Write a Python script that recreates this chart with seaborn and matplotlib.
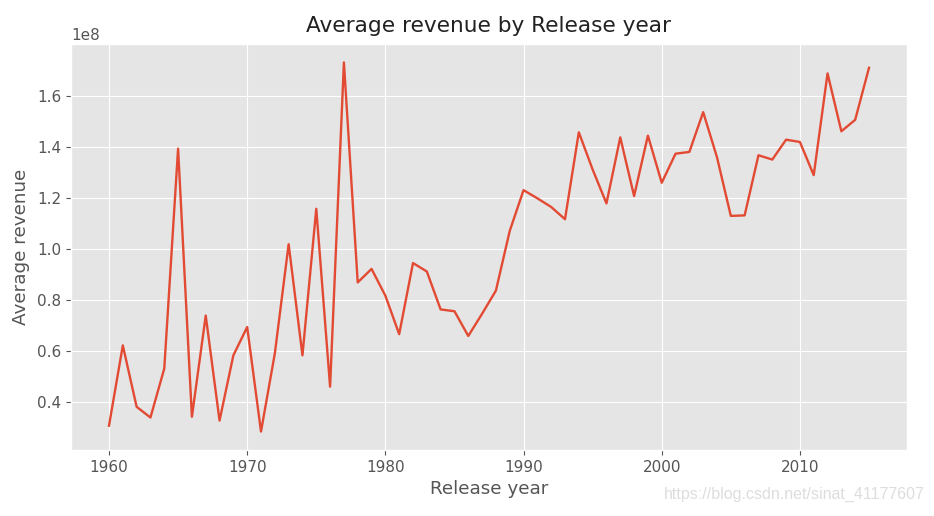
import numpy as np
import pandas as pd
import matplotlib
matplotlib.use("Agg")
import matplotlib.pyplot as plt
import seaborn as sns

years = list(range(1960, 2016))
avg_revenue_1e8 = [
    0.306, 0.621, 0.380, 0.338, 0.530, 1.393, 0.341, 0.738, 0.326, 0.582,
    0.693, 0.283, 0.589, 1.018, 0.582, 1.157, 0.459, 1.731, 0.868, 0.921,
    0.816, 0.665, 0.944, 0.911, 0.762, 0.755, 0.658, 0.745, 0.836, 1.070,
    1.230, 1.198, 1.164, 1.116, 1.457, 1.311, 1.178, 1.437, 1.207, 1.444,
    1.259, 1.373, 1.380, 1.536, 1.359, 1.129, 1.131, 1.367, 1.350, 1.428,
    1.419, 1.289, 1.688, 1.461, 1.506, 1.710,
]

df = pd.DataFrame({"release_year": years,
                   "revenue": [v * 1e8 for v in avg_revenue_1e8]})

plt.style.use("ggplot")
plt.rcParams["font.family"] = ["DejaVu Sans"]

fig = plt.figure(figsize=(9.34, 5.16), dpi=100)
ax = fig.add_axes([71 / 934, 1 - 450 / 516, (907 - 71) / 934, (450 - 44) / 516])
sns.lineplot(data=df, x="release_year", y="revenue", ax=ax, color="#E24A33", linewidth=1.7)

ax.set_title("Average revenue by Release year", fontsize=15.6, color="#222222", pad=9)
ax.set_xlabel("Release year", fontsize=13.2, color="#555555", labelpad=4)
ax.set_ylabel("Average revenue", fontsize=13.2, color="#555555", labelpad=5)
ax.tick_params(labelsize=11, colors="#555555")
ax.yaxis.get_offset_text().set_fontsize(11)
ax.set_yticks([0.4e8, 0.6e8, 0.8e8, 1.0e8, 1.2e8, 1.4e8, 1.6e8])

fig.text(0.99, 0.027, "https://blog.csdn.net/sinat_41177607", ha="right", va="bottom",
         fontsize=11.5, color="#dddddd", family=["Liberation Sans", "DejaVu Sans"])

fig.savefig("out.png", dpi=100)
